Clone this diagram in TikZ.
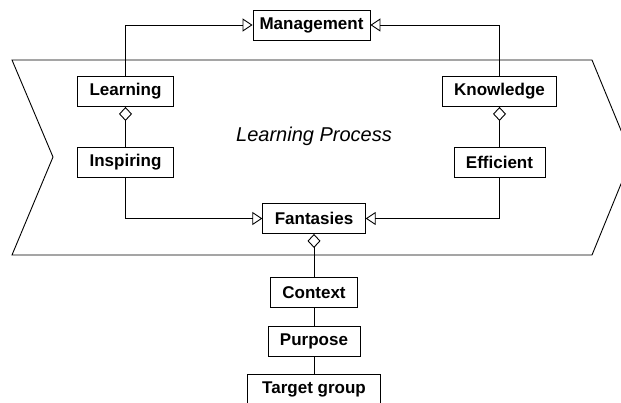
\documentclass[tikz,border=0pt]{standalone}
\usepackage{fontspec}
\setmainfont{Liberation Sans}
\usetikzlibrary{arrows.meta, positioning}

\begin{document}
\begin{tikzpicture}[x=1pt, y=-1pt, >=stealth]
    % Styles
    \tikzstyle{block} = [rectangle, draw, line width=0.9pt, font=\fontsize{17}{20}\selectfont\bfseries, inner xsep=12pt, inner ysep=0pt, minimum height=30pt]
    \tikzstyle{gen} = [line width=0.9pt, -{Triangle[open, length=10pt, width=13pt]}]
    \tikzstyle{agg} = [line width=0.9pt, {Diamond[open, length=14pt, width=13pt]}-]
    \tikzstyle{link} = [line width=0.9pt]

    \useasboundingbox (0,0) rectangle (621,403);
    \clip (0,0) rectangle (621,403);

    % Process shape
    \draw[line width=0.9pt] (12,60) -- (592,60) -- (632,157) -- (592,255) -- (12,255) -- (53,157) -- cycle;
    \node[anchor=base, font=\fontsize{20}{24}\selectfont\itshape] (process) at (314,142) {Learning Process};

    % Nodes
    \node[block, inner xsep=6.5pt] (management) at (311.5,25) {Management};
    \node[block] (learning) at (125.5,91.5) {Learning};
    \node[block] (knowledge) at (499.5,91.5) {Knowledge};
    \node[block] (inspiring) at (125.5,162.5) {Inspiring};
    \node[block] (efficient) at (499.5,162) {Efficient};
    \node[block] (fantasies) at (314,218.5) {Fantasies};
    \node[block] (context) at (314,292.5) {Context};
    \node[block] (purpose) at (314,341.5) {Purpose};
    \node[block, inner xsep=15pt] (target) at (314,389.5) {Target group};

    % Paths
    \draw [gen] (learning.north) |- (management.west);
    \draw [gen] (knowledge.north) |- (management.east);
    \draw [agg] (learning) -- (inspiring);
    \draw [agg] (knowledge) -- (efficient);
    \draw [gen] (inspiring.south) |- (fantasies.west);
    \draw [gen] (efficient.south) |- (fantasies.east);
    \draw [agg] (fantasies) -- (context);
    \draw [link] (context) -- (purpose);
    \draw [link] (purpose) -- (target);
\end{tikzpicture}
\end{document}
